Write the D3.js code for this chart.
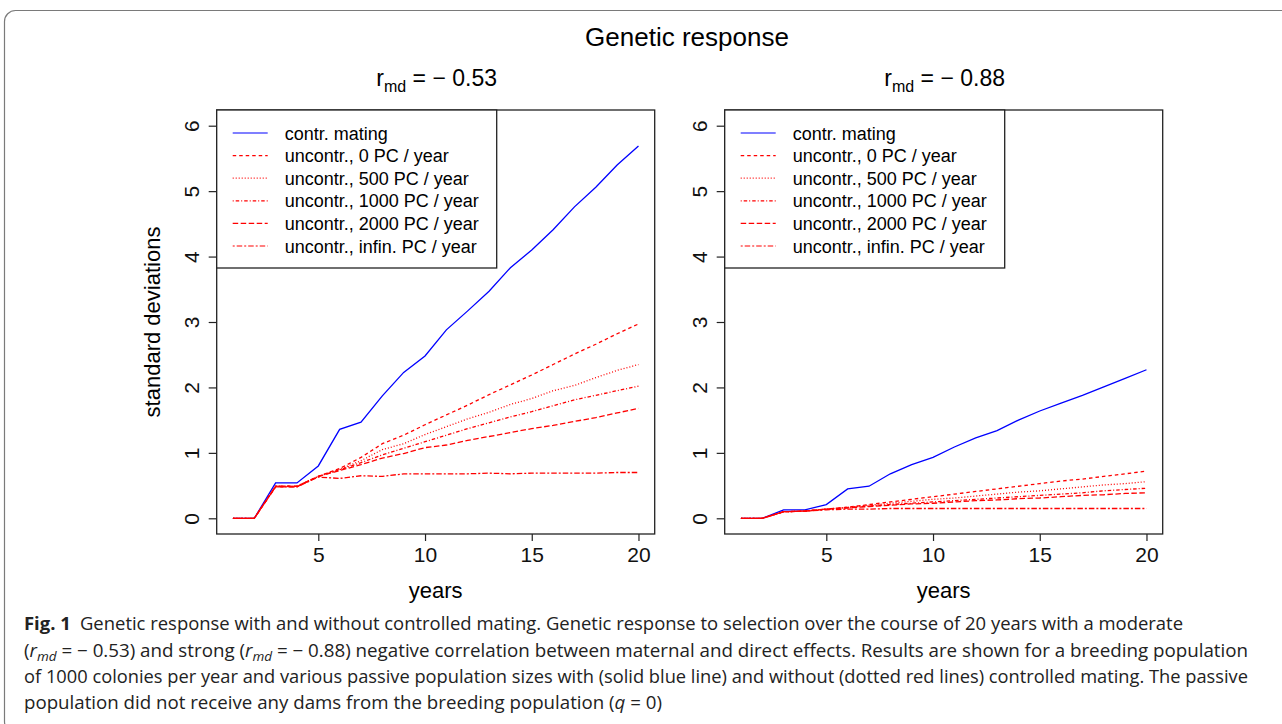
<!DOCTYPE html>
<html>
<head>
<meta charset="utf-8">
<script src="https://cdnjs.cloudflare.com/ajax/libs/d3/7.8.5/d3.min.js"></script>
<style>
  body { margin: 0; background: #fff; }
  svg { display: block; }
</style>
</head>
<body>
<div id="chart"></div>
<script>
// years on the x axis
const years = [1, 2, 3, 4, 5, 6, 7, 8, 9, 10, 11, 12, 13, 14, 15, 16, 17, 18, 19, 20];
const xTicks = [5, 10, 15, 20];
const yTicks = [0, 1, 2, 3, 4, 5, 6];

const legendLabels = [
  "contr. mating",
  "uncontr., 0 PC / year",
  "uncontr., 500 PC / year",
  "uncontr., 1000 PC / year",
  "uncontr., 2000 PC / year",
  "uncontr., infin. PC / year"
];

// r_md = -0.53
const leftContr = [0, 0, 0.54, 0.54, 0.80, 1.36, 1.47, 1.87, 2.23, 2.48, 2.88, 3.17, 3.47, 3.83, 4.10, 4.41, 4.76, 5.06, 5.40, 5.69];
const left0     = [0, 0, 0.49, 0.49, 0.64, 0.76, 0.93, 1.14, 1.27, 1.43, 1.58, 1.73, 1.89, 2.04, 2.19, 2.35, 2.51, 2.66, 2.82, 2.97];
const left500   = [0, 0, 0.49, 0.49, 0.64, 0.75, 0.88, 1.05, 1.14, 1.28, 1.40, 1.52, 1.62, 1.74, 1.83, 1.95, 2.03, 2.15, 2.26, 2.35];
const left1000  = [0, 0, 0.49, 0.49, 0.64, 0.74, 0.85, 0.97, 1.07, 1.17, 1.27, 1.37, 1.46, 1.55, 1.63, 1.72, 1.81, 1.88, 1.95, 2.02];
const left2000  = [0, 0, 0.48, 0.48, 0.64, 0.73, 0.82, 0.92, 0.99, 1.08, 1.12, 1.19, 1.25, 1.31, 1.37, 1.42, 1.48, 1.54, 1.61, 1.68];
const leftInf   = [0, 0, 0.48, 0.48, 0.63, 0.61, 0.65, 0.64, 0.68, 0.68, 0.68, 0.68, 0.69, 0.68, 0.69, 0.69, 0.69, 0.69, 0.70, 0.70];

// r_md = -0.88
const rightContr = [0, 0, 0.13, 0.13, 0.21, 0.45, 0.49, 0.68, 0.82, 0.93, 1.09, 1.23, 1.34, 1.50, 1.64, 1.76, 1.88, 2.01, 2.14, 2.27];
const right0     = [0, 0, 0.10, 0.11, 0.14, 0.17, 0.21, 0.25, 0.29, 0.33, 0.37, 0.41, 0.45, 0.49, 0.53, 0.57, 0.60, 0.64, 0.68, 0.72];
const right500   = [0, 0, 0.10, 0.11, 0.14, 0.17, 0.20, 0.23, 0.26, 0.29, 0.31, 0.34, 0.37, 0.40, 0.42, 0.45, 0.48, 0.51, 0.53, 0.56];
const right1000  = [0, 0, 0.10, 0.11, 0.14, 0.16, 0.19, 0.21, 0.23, 0.25, 0.27, 0.29, 0.31, 0.33, 0.35, 0.37, 0.39, 0.42, 0.44, 0.46];
const right2000  = [0, 0, 0.10, 0.11, 0.14, 0.16, 0.18, 0.20, 0.22, 0.23, 0.25, 0.27, 0.28, 0.30, 0.31, 0.33, 0.35, 0.36, 0.38, 0.39];
const rightInf   = [0, 0, 0.10, 0.11, 0.13, 0.14, 0.14, 0.15, 0.15, 0.15, 0.15, 0.15, 0.15, 0.15, 0.15, 0.15, 0.15, 0.15, 0.15, 0.15];

// line styles, same order as legend (R lty 1..6)
const lineStyles = [
  { color: "#0000ff", dash: null },
  { color: "#ff0000", dash: "3.5,3" },
  { color: "#ff0000", dash: "1,2" },
  { color: "#ff0000", dash: "1,2,3.5,2" },
  { color: "#ff0000", dash: "5.5,2.5" },
  { color: "#ff0000", dash: "2,2,5.5,2" }
];

const W = 1282, H = 724;
const plotFont = "'Liberation Sans', Arial, Helvetica, sans-serif";

const svg = d3.select("#chart")
  .append("svg")
    .attr("width", W)
    .attr("height", H);

// outer rounded frame
svg.append("rect")
  .attr("x", 4.5)
  .attr("y", 10.5)
  .attr("width", 1300)
  .attr("height", 722)
  .attr("rx", 11)
  .attr("fill", "none")
  .attr("stroke", "#7a7a7a")
  .attr("stroke-width", 1.2);

// main title
svg.append("text")
  .attr("x", 687)
  .attr("y", 46)
  .attr("text-anchor", "middle")
  .style("font-family", plotFont)
  .style("font-size", "26px")
  .text("Genetic response");

function drawPanel(left, rmd, series, yLabel) {
  const box = { x0: left, x1: left + 438, y0: 110, y1: 534 };

  const x = d3.scaleLinear().domain([0.24, 20.76]).range([box.x0, box.x1]);
  const y = d3.scaleLinear().domain([-0.24, 6.24]).range([box.y1, box.y0]);

  const g = svg.append("g");

  // panel subtitle r_md = - x
  const sub = g.append("text")
    .attr("x", (box.x0 + box.x1) / 2 + 1)
    .attr("y", 86)
    .attr("text-anchor", "middle")
    .style("font-family", plotFont)
    .style("font-size", "23px");
  sub.append("tspan").text("r");
  sub.append("tspan").attr("dy", 6).style("font-size", "16px").text("md");
  sub.append("tspan").attr("dy", -6).text(" = \u2212 " + rmd);

  // lines
  const line = d3.line()
    .x((d, i) => x(years[i]))
    .y(d => y(d));

  series.forEach((s, k) => {
    g.append("path")
      .datum(s)
      .attr("fill", "none")
      .attr("stroke", lineStyles[k].color)
      .attr("stroke-width", 1.3)
      .attr("stroke-dasharray", lineStyles[k].dash)
      .attr("d", line);
  });

  // x axis
  const xAxis = g.append("g")
    .attr("transform", `translate(0,${box.y1})`)
    .call(d3.axisBottom(x).tickValues(xTicks).tickSize(7).tickPadding(6).tickSizeOuter(0));
  xAxis.select(".domain").remove();
  xAxis.selectAll("line").attr("stroke", "#222").attr("stroke-width", 1.2);
  xAxis.selectAll("text")
    .style("font-family", plotFont)
    .style("font-size", "21px")
    .attr("fill", "#111");

  // y axis with rotated labels like base R
  const yAxis = g.append("g")
    .attr("transform", `translate(${box.x0},0)`)
    .call(d3.axisLeft(y).tickValues(yTicks).tickFormat(d3.format("d")).tickSize(8).tickSizeOuter(0));
  yAxis.select(".domain").remove();
  yAxis.selectAll("line").attr("stroke", "#222").attr("stroke-width", 1.2);
  yAxis.selectAll("text")
    .attr("x", 0)
    .attr("dy", 0)
    .attr("transform", "translate(-18,0) rotate(-90)")
    .attr("text-anchor", "middle")
    .style("font-family", plotFont)
    .style("font-size", "21px")
    .attr("fill", "#111");

  // plot box
  g.append("rect")
    .attr("x", box.x0)
    .attr("y", box.y0)
    .attr("width", box.x1 - box.x0)
    .attr("height", box.y1 - box.y0)
    .attr("fill", "none")
    .attr("stroke", "#222")
    .attr("stroke-width", 1.3);

  // x label
  g.append("text")
    .attr("x", (box.x0 + box.x1) / 2)
    .attr("y", 598)
    .attr("text-anchor", "middle")
    .style("font-family", plotFont)
    .style("font-size", "22px")
    .text("years");

  // y label (left panel only)
  if (yLabel) {
    g.append("text")
      .attr("transform", `translate(${box.x0 - 57},${(box.y0 + box.y1) / 2}) rotate(-90)`)
      .attr("text-anchor", "middle")
      .style("font-family", plotFont)
      .style("font-size", "22px")
      .text(yLabel);
  }

  // legend
  const leg = g.append("g");
  leg.append("rect")
    .attr("x", box.x0)
    .attr("y", box.y0)
    .attr("width", 280)
    .attr("height", 158)
    .attr("fill", "#fff")
    .attr("stroke", "#222")
    .attr("stroke-width", 1.3);

  legendLabels.forEach((lab, k) => {
    const ly = box.y0 + 23 + k * 22.6;
    leg.append("line")
      .attr("x1", box.x0 + 16)
      .attr("x2", box.x0 + 51)
      .attr("y1", ly)
      .attr("y2", ly)
      .attr("stroke", lineStyles[k].color)
      .attr("stroke-width", 1.2)
      .attr("stroke-dasharray", lineStyles[k].dash);
    leg.append("text")
      .attr("x", box.x0 + 68)
      .attr("y", ly + 6.5)
      .style("font-family", plotFont)
      .style("font-size", "18px")
      .text(lab);
  });
}

drawPanel(216.7, "0.53", [leftContr, left0, left500, left1000, left2000, leftInf], "standard deviations");
drawPanel(724.7, "0.88", [rightContr, right0, right500, right1000, right2000, rightInf], null);

// figure caption
const capFont = "'Open Sans', 'Noto Sans', sans-serif";
const capX = 24;
const capLines = [
  { y: 630, len: 1159 },
  { y: 657, len: 1224 },
  { y: 683, len: 1224 },
  { y: 709, len: 638 }
];

function capText(i) {
  return svg.append("text")
    .attr("x", capX)
    .attr("y", capLines[i].y)
    .attr("textLength", capLines[i].len)
    .attr("lengthAdjust", "spacingAndGlyphs")
    .style("font-family", capFont)
    .style("font-size", "18px")
    .attr("fill", "#222");
}

const c1 = capText(0);
c1.append("tspan").style("font-weight", "bold").text("Fig. 1");
c1.append("tspan").text("\u2002Genetic response with and without controlled mating. Genetic response to selection over the course of 20 years with a moderate");

const c2 = capText(1);
c2.append("tspan").text("(");
c2.append("tspan").style("font-style", "italic").text("r");
c2.append("tspan").attr("dy", 4).style("font-style", "italic").style("font-size", "13px").text("md");
c2.append("tspan").attr("dy", -4).text(" = \u2212 0.53) and strong (");
c2.append("tspan").style("font-style", "italic").text("r");
c2.append("tspan").attr("dy", 4).style("font-style", "italic").style("font-size", "13px").text("md");
c2.append("tspan").attr("dy", -4).text(" = \u2212 0.88) negative correlation between maternal and direct effects. Results are shown for a breeding population");

const c3 = capText(2);
c3.text("of 1000 colonies per year and various passive population sizes with (solid blue line) and without (dotted red lines) controlled mating. The passive");

const c4 = capText(3);
c4.append("tspan").text("population did not receive any dams from the breeding population (");
c4.append("tspan").style("font-style", "italic").text("q");
c4.append("tspan").text(" = 0)");
</script>
</body>
</html>
